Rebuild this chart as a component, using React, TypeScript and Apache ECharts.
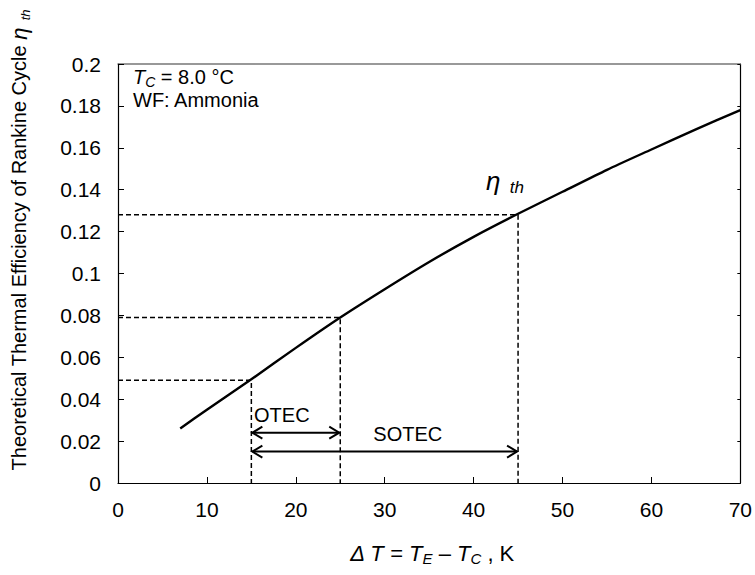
import React, { useEffect, useRef } from "react";
import * as echarts from "echarts";

const deltaT = [7, 10, 15, 20, 25, 30, 35, 40, 45, 50, 55, 60, 65, 70];
const etaTh = [0.026, 0.035, 0.0495, 0.0645, 0.079, 0.0925, 0.1055, 0.1175, 0.1285, 0.139, 0.1495, 0.1592, 0.1688, 0.178];

// reference points (x, eta) for dashed guide lines
const guideX = [15, 25, 45];
const guideY = [0.049, 0.079, 0.128];

// double arrows: [x1, x2, y]
const arrows = [
  [15, 25, 0.024],
  [15, 45, 0.015],
];
const arrowLabels = [
  { name: "OTEC", x: 15.3, y: 0.0325, align: "left" },
  { name: "SOTEC", x: 32.6, y: 0.0235, align: "center" },
];

const FONT = "'Liberation Sans', Arial, sans-serif";

export default function App() {
  const ref = useRef<HTMLDivElement>(null);
  useEffect(() => {
    if (!ref.current) return;
    const chart = echarts.init(ref.current, null, { renderer: "svg" });
    const dashed = { type: [5, 3] as any, color: "#000", width: 1.5 };
    const guideSeries: any[] = [];
    guideX.forEach((gx, i) => {
      guideSeries.push({
        type: "line",
        data: [[0, guideY[i]], [gx, guideY[i]], [gx, 0]],
        symbol: "none",
        lineStyle: dashed,
        silent: true,
        z: 1,
      });
    });
    const option: any = {
      animation: false,
      textStyle: { fontFamily: FONT },
      grid: { left: 118, right: 13, top: 64, bottom: 92, containLabel: false },
      xAxis: [
        {
          type: "value",
          min: 0,
          max: 70,
          interval: 10,
          axisLine: { onZero: false, lineStyle: { color: "#000", width: 1.2 } },
          axisTick: { inside: true, length: 6, lineStyle: { color: "#000" } },
          axisLabel: { color: "#000", fontSize: 21, margin: 16, fontFamily: FONT },
          splitLine: { show: false },
        },
        {
          type: "value",
          position: "top",
          min: 0,
          max: 70,
          axisLine: { show: true, onZero: false, lineStyle: { color: "#777", width: 1.5 } },
          axisTick: { show: false },
          axisLabel: { show: false },
          splitLine: { show: false },
        },
      ],
      yAxis: [
        {
          type: "value",
          min: 0,
          max: 0.2,
          interval: 0.02,
          axisLine: { show: true, onZero: false, lineStyle: { color: "#000", width: 1.2 } },
          axisTick: { show: true, inside: true, length: 6, lineStyle: { color: "#000" } },
          axisLabel: {
            color: "#000",
            fontSize: 21,
            margin: 17,
            fontFamily: FONT,
            formatter: (v: number) => String(parseFloat(v.toFixed(2))),
          },
          splitLine: { show: false },
        },
        {
          type: "value",
          position: "right",
          min: 0,
          max: 0.2,
          interval: 0.02,
          axisLine: { show: true, onZero: false, lineStyle: { color: "#000", width: 1.2 } },
          axisTick: { show: true, inside: true, length: 3, lineStyle: { color: "#000" } },
          axisLabel: { show: false },
          splitLine: { show: false },
        },
      ],
      series: [
        ...guideSeries,
        {
          type: "line",
          data: deltaT.map((x, i) => [x, etaTh[i]]),
          smooth: 0.25,
          symbol: "none",
          lineStyle: { color: "#000", width: 2.4, join: "round" },
          z: 3,
        },
        {
          type: "custom",
          data: arrows,
          silent: true,
          z: 4,
          renderItem: (params: any, api: any) => {
            const x1 = api.value(0);
            const x2 = api.value(1);
            const y = api.value(2);
            const p1 = api.coord([x1, y]);
            const p2 = api.coord([x2, y]);
            const hl = 11;
            const hw = 6;
            const st = { stroke: "#000", lineWidth: 2, fill: "none" };
            return {
              type: "group",
              children: [
                { type: "line", shape: { x1: p1[0] + 1, y1: p1[1], x2: p2[0] - 1, y2: p2[1] }, style: st },
                {
                  type: "polyline",
                  shape: { points: [[p1[0] + hl, p1[1] - hw], [p1[0] + 1, p1[1]], [p1[0] + hl, p1[1] + hw]] },
                  style: st,
                },
                {
                  type: "polyline",
                  shape: { points: [[p2[0] - hl, p2[1] - hw], [p2[0] - 1, p2[1]], [p2[0] - hl, p2[1] + hw]] },
                  style: st,
                },
              ],
            };
          },
        },
        {
          type: "custom",
          data: arrowLabels.map((a) => [a.x, a.y]),
          silent: true,
          z: 5,
          renderItem: (params: any, api: any) => {
            const p = api.coord([api.value(0), api.value(1)]);
            const a = arrowLabels[params.dataIndex];
            return {
              type: "text",
              x: p[0],
              y: p[1],
              style: {
                text: a.name,
                align: a.align,
                verticalAlign: "middle",
                fontSize: 20,
                fontFamily: FONT,
                fill: "#000",
              },
            };
          },
        },
      ],
      graphic: [
        {
          type: "text",
          left: 133,
          top: 67,
          style: {
            text: "{i|T}{s|C}{n| = 8.0 °C}\n{n|WF: Ammonia}",
            rich: {
              i: { fontSize: 20, fontStyle: "italic", fontFamily: FONT, fill: "#000", lineHeight: 23 },
              s: { fontSize: 14, fontStyle: "italic", fontFamily: FONT, fill: "#000", verticalAlign: "bottom", padding: [7, 0, 0, 0], lineHeight: 23 },
              n: { fontSize: 20, fontFamily: FONT, fill: "#000", lineHeight: 23 },
            },
          },
        },
        {
          type: "text",
          left: 486,
          top: 168,
          style: {
            text: "{e|η}{s|  th}",
            rich: {
              e: { fontSize: 26, fontStyle: "italic", fontFamily: FONT, fill: "#000", lineHeight: 30 },
              s: { fontSize: 17, fontStyle: "italic", fontFamily: FONT, fill: "#000", verticalAlign: "bottom", lineHeight: 30, padding: [9, 0, 0, 0] },
            },
          },
        },
        {
          type: "text",
          x: 432,
          y: 553,
          style: {
            text: "{i|Δ T}{n| = }{i|T}{s|E}{n| – }{i|T}{s|C}{n| , K}",
            align: "center",
            verticalAlign: "middle",
            fill: "#000",
            rich: {
              i: { fontSize: 22, fontStyle: "italic", fontFamily: FONT, fill: "#000", lineHeight: 26 },
              s: { fontSize: 15, fontStyle: "italic", fontFamily: FONT, fill: "#000", verticalAlign: "bottom", padding: [9, 0, 0, 0], lineHeight: 26 },
              n: { fontSize: 22, fontFamily: FONT, fill: "#000", lineHeight: 26 },
            },
          },
        },
        {
          type: "text",
          x: 19,
          y: 240,
          rotation: Math.PI / 2,
          style: {
            text: "{n|Theoretical Thermal Efficiency of Rankine Cycle }{e|η}{s|  th}",
            align: "center",
            verticalAlign: "middle",
            fill: "#000",
            rich: {
              n: { fontSize: 20, fontFamily: FONT, fill: "#000", lineHeight: 26 },
              e: { fontSize: 22, fontStyle: "italic", fontFamily: FONT, fill: "#000", lineHeight: 26 },
              s: { fontSize: 13, fontStyle: "italic", fontFamily: FONT, fill: "#000", verticalAlign: "bottom", padding: [9, 0, 0, 0], lineHeight: 26 },
            },
          },
        },
      ],
    };
    chart.setOption(option);
    return () => chart.dispose();
  }, []);
  return <div ref={ref} style={{ position: "absolute", left: 0, top: 0, width: 755, height: 575 }} />;
}
